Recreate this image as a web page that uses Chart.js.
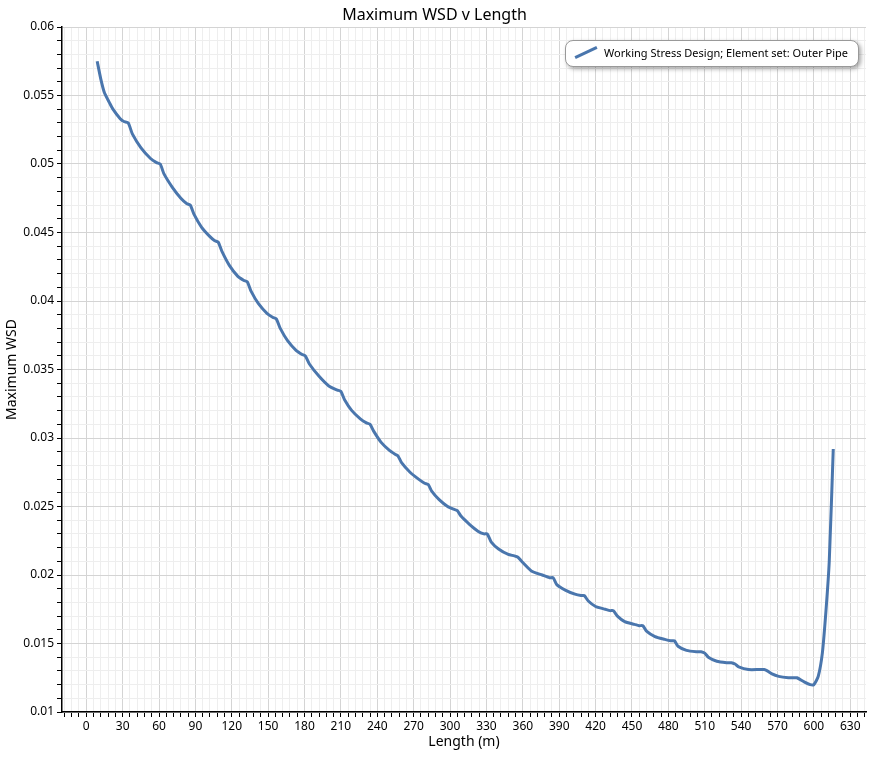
<!DOCTYPE html>
<html>
<head>
<meta charset="utf-8">
<script src="https://cdn.jsdelivr.net/npm/chart.js@4/dist/chart.umd.min.js"></script>
<style>
  body { margin: 0; background: #fff; font-family: "Noto Sans", sans-serif; }
  #wrap { position: relative; width: 869px; height: 762px; }
  #title { position: absolute; top: 3px; left: 0; width: 869px; text-align: center; font-size: 16px; color: #000; }
  #legend { position: absolute; top: 40px; right: 10px; background: #fff; border: 1px solid #999; border-radius: 8px;
    box-shadow: 2px 2px 4px rgba(0,0,0,0.35); padding: 4px 10px 6px 8px; font-size: 11px; display: flex; align-items: center; }
  #legend i { display: inline-block; width: 24px; height: 3px; background: #4a76ad; transform: rotate(-25deg); margin-right: 6px; }
</style>
</head>
<body>
<div id="wrap">
  <canvas id="chart" width="869" height="762"></canvas>
  <div id="title">Maximum WSD v Length</div>
  <div id="legend"><i></i>Working Stress Design; Element set: Outer Pipe</div>
</div>
<script>
const lengths = [9, 12, 15, 19, 22, 28, 31, 34.6, 38, 45, 53, 58, 61, 64, 71, 78, 83, 85.8, 89, 95, 102, 106, 108.8, 112, 118, 125, 130, 132.8, 136, 142, 149, 154, 156.7, 160, 166, 173, 178, 180.6, 184, 192, 200, 207, 210, 213, 219, 226, 231, 234, 237, 243, 250, 255, 257, 260, 267, 274, 279, 282, 285, 291, 298, 303, 306, 309, 316, 323, 328, 330.7, 334, 340, 348, 353, 356, 359, 367, 376, 382, 385, 388, 395, 403, 408, 410.6, 414, 420, 428, 432, 434.6, 438, 444, 452, 456, 459, 462, 469, 477, 482, 485, 488, 495, 503, 507, 510, 513, 520, 528, 532, 535, 538, 546, 555, 559, 561.6, 565, 571, 579, 584, 586, 592, 597, 600, 603.6, 607, 610, 612.7, 616];
const wsd = [0.0575, 0.0562, 0.0552, 0.0545, 0.0540, 0.0533, 0.0531, 0.0530, 0.0522, 0.0512, 0.0504, 0.0501, 0.0500, 0.0493, 0.0483, 0.0475, 0.0471, 0.0470, 0.0463, 0.0454, 0.0447, 0.0444, 0.0443, 0.0436, 0.0426, 0.0418, 0.0415, 0.0414, 0.0407, 0.0398, 0.0391, 0.0388, 0.0387, 0.0380, 0.0371, 0.0364, 0.0361, 0.0360, 0.0354, 0.0345, 0.0338, 0.0335, 0.0334, 0.0328, 0.0320, 0.0314, 0.0311, 0.0310, 0.0305, 0.0297, 0.0291, 0.0288, 0.0287, 0.0282, 0.0275, 0.0270, 0.0267, 0.0266, 0.0261, 0.0255, 0.0250, 0.0248, 0.0247, 0.0243, 0.0237, 0.0232, 0.0230, 0.0230, 0.0224, 0.0219, 0.0215, 0.0214, 0.0213, 0.0210, 0.0203, 0.0200, 0.0198, 0.0198, 0.0193, 0.0189, 0.0186, 0.0185, 0.0185, 0.0181, 0.0177, 0.0175, 0.0174, 0.0174, 0.0170, 0.0166, 0.0164, 0.0163, 0.0163, 0.0159, 0.0155, 0.0153, 0.0152, 0.0152, 0.0148, 0.0145, 0.0144, 0.0144, 0.0143, 0.0140, 0.0137, 0.0136, 0.0136, 0.0135, 0.0133, 0.0131, 0.0131, 0.0131, 0.0130, 0.0128, 0.0126, 0.0125, 0.0125, 0.0125, 0.0122, 0.0120, 0.0120, 0.0126, 0.0143, 0.0174, 0.0210, 0.0292];
const xLabelTicks = [0, 30, 60, 90, 120, 150, 180, 210, 240, 270, 300, 330, 360, 390, 420, 450, 480, 510, 540, 570, 600, 630];
const yLabelTicks = [0.01, 0.015, 0.02, 0.025, 0.03, 0.035, 0.04, 0.045, 0.05, 0.055, 0.06];

const points = lengths.map((x, i) => ({ x, y: wsd[i] }));

function range(a, b, s) {
  const out = [];
  for (let v = a; v <= b + s / 2; v += s) out.push({ value: Math.round(v / s) * s });
  return out;
}

const isMajorX = (v) => Math.abs(v / 30 - Math.round(v / 30)) < 1e-6;
const isMajorY = (v) => Math.abs(v / 0.005 - Math.round(v / 0.005)) < 1e-6;

new Chart(document.getElementById("chart"), {
  type: "line",
  data: {
    datasets: [{
      data: points,
      borderColor: "#4a76ad",
      borderWidth: 3,
      pointRadius: 0,
      tension: 0.2,
    }],
  },
  options: {
    responsive: false,
    animation: false,
    layout: { padding: { top: 27, right: 3 } },
    plugins: { legend: { display: false }, tooltip: { enabled: false } },
    scales: {
      x: {
        type: "linear",
        min: -20,
        max: 643,
        afterBuildTicks: (s) => { s.ticks = range(-18, 642, 6); },
        afterFit: (s) => { s.height = 50; },
        grid: {
          color: (c) => isMajorX(c.tick.value) ? "#d4d4d4" : "#eeeeee",
          tickColor: "#000",
          tickLength: 5,
        },
        border: { color: "#000", width: 1.5 },
        ticks: {
          color: "#000",
          font: { family: "Noto Sans", size: 12 },
          maxRotation: 0,
          autoSkip: false,
          padding: 2,
          callback: (v) => xLabelTicks.includes(v) ? String(v) : "",
        },
        title: { display: true, text: "Length (m)", color: "#000", font: { family: "Noto Sans", size: 14 }, padding: { top: 0, bottom: 12 } },
      },
      y: {
        min: 0.01,
        max: 0.06,
        afterBuildTicks: (s) => { s.ticks = range(0.01, 0.06, 0.001); },
        afterFit: (s) => { s.width = 62; },
        grid: {
          color: (c) => isMajorY(c.tick.value) ? "#d4d4d4" : "#eeeeee",
          tickColor: "#000",
          tickLength: 5,
        },
        border: { color: "#000", width: 1.5 },
        ticks: {
          color: "#000",
          font: { family: "Noto Sans", size: 12 },
          autoSkip: false,
          callback: (v) => yLabelTicks.some((t) => Math.abs(t - v) < 1e-9) ? String(+v.toFixed(3)) : "",
        },
        title: { display: true, text: "Maximum WSD", color: "#000", font: { family: "Noto Sans", size: 14 }, padding: { top: 4, bottom: 0 } },
      },
    },
  },
});
</script>
</body>
</html>
